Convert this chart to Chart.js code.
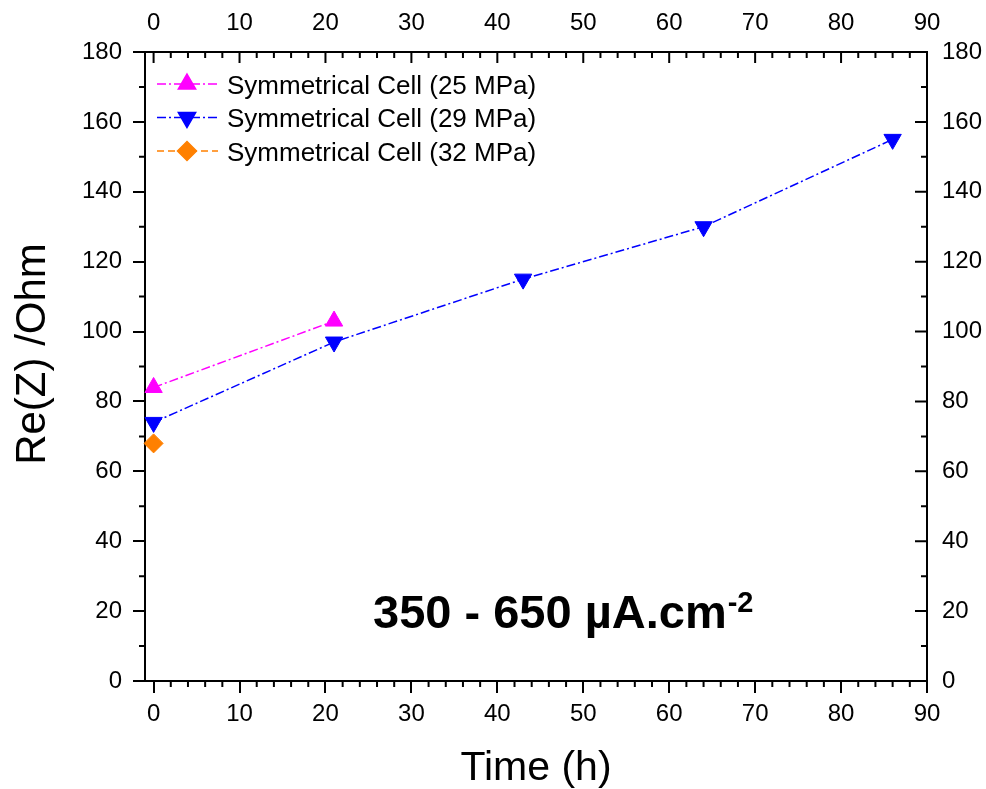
<!DOCTYPE html>
<html>
<head>
<meta charset="utf-8">
<script src="https://cdn.jsdelivr.net/npm/chart.js@4/dist/chart.umd.min.js"></script>
<style>
  html, body { margin: 0; padding: 0; background: #ffffff; }
  #wrap { width: 986px; height: 789px; }
</style>
</head>
<body>
<div id="wrap"><canvas id="c" width="986" height="789"></canvas></div>
<script>
// ---- data ----
const seriesLabels = ['Symmetrical Cell (25 MPa)', 'Symmetrical Cell (29 MPa)', 'Symmetrical Cell (32 MPa)'];
const timeH25 = [0, 21];
const reZ25 = [84, 103];
const timeH29 = [0, 21, 43, 64, 86];
const reZ29 = [74, 97, 115, 130, 155];
const timeH32 = [0];
const reZ32 = [68];
const xTickValues = [0, 10, 20, 30, 40, 50, 60, 70, 80, 90];
const yTickValues = [0, 20, 40, 60, 80, 100, 120, 140, 160, 180];
const xTitle = 'Time (h)';
const yTitle = 'Re(Z) /Ohm';
const noteMain = '350 - 650 µA.cm';
const noteSup = '-2';

const FONT = '"Liberation Sans", Arial, Helvetica, sans-serif';

function pts(xs, ys) { return xs.map((x, i) => ({ x: x, y: ys[i] })); }

const setTicks = (vals) => (scale) => { scale.ticks = vals.map(v => ({ value: v })); };

const tickFont = { family: FONT, size: 24 };

const decorPlugin = {
  id: 'decor',
  afterDraw(chart) {
    const ctx = chart.ctx;
    const a = chart.chartArea;
    const xs = chart.scales.x, ys = chart.scales.y;
    ctx.save();
    ctx.strokeStyle = '#000';
    ctx.lineWidth = 2;
    // minor ticks + inward major ticks (top / right)
    ctx.beginPath();
    for (let v = 0; v <= 90; v += 2) {
      const px = xs.getPixelForValue(v);
      const major = v % 10 === 0;
      if (!major) { ctx.moveTo(px, a.bottom); ctx.lineTo(px, a.bottom + 6); }
      ctx.moveTo(px, a.top); ctx.lineTo(px, a.top + (major ? 11 : 6));
    }
    for (let v = 0; v <= 180; v += 10) {
      const py = ys.getPixelForValue(v);
      const major = v % 20 === 0;
      if (!major) { ctx.moveTo(a.left, py); ctx.lineTo(a.left - 6, py); }
      ctx.moveTo(a.right, py); ctx.lineTo(a.right - (major ? 12 : 6), py);
    }
    ctx.stroke();

    // axis titles
    ctx.fillStyle = '#000';
    ctx.font = '41px ' + FONT;
    ctx.textAlign = 'center';
    ctx.textBaseline = 'alphabetic';
    ctx.fillText(xTitle, 536, 780);
    ctx.save();
    ctx.translate(45, 354);
    ctx.rotate(-Math.PI / 2);
    ctx.font = '42px ' + FONT;
    ctx.fillText(yTitle, 0, 0);
    ctx.restore();

    // annotation
    ctx.textAlign = 'left';
    ctx.font = 'bold 47px ' + FONT;
    const x0 = 373;
    ctx.fillText(noteMain, x0, 628);
    const w = ctx.measureText(noteMain).width;
    ctx.font = 'bold 29px ' + FONT;
    ctx.fillText(noteSup, x0 + w + 1, 612);

    // legend
    const rows = [84, 117.5, 151];
    chart.data.datasets.forEach((ds, i) => {
      const y = rows[i];
      ctx.save();
      ctx.strokeStyle = ds.borderColor;
      ctx.lineWidth = 1.5;
      ctx.setLineDash(ds.borderDash || []);
      ctx.beginPath();
      ctx.moveTo(157, y); ctx.lineTo(218, y);
      ctx.stroke();
      ctx.setLineDash([]);
      ctx.fillStyle = ds.pointBackgroundColor;
      ctx.strokeStyle = ds.pointBorderColor;
      Chart.helpers.drawPoint(ctx, {
        pointStyle: ds.pointStyle, rotation: ds.pointRotation || 0,
        radius: ds.pointRadius, borderWidth: 1
      }, 187, y);
      ctx.restore();
      ctx.fillStyle = '#000';
      ctx.font = '26px ' + FONT;
      ctx.textAlign = 'left';
      ctx.textBaseline = 'alphabetic';
      ctx.fillText(ds.label, 227, y + 9.5);
    });
    ctx.restore();
  }
};

const mkDs = (label, data, color, style, rot, dash, r) => ({
  label: label, data: data,
  borderColor: color, backgroundColor: color,
  pointBackgroundColor: color, pointBorderColor: color,
  pointStyle: style, pointRotation: rot, pointRadius: r, pointHoverRadius: r,
  pointBorderWidth: 1,
  borderWidth: 1.5, borderDash: dash,
  showLine: true, tension: 0, clip: false, xAxisID: 'x', yAxisID: 'y'
});

new Chart(document.getElementById('c'), {
  type: 'scatter',
  data: {
    datasets: [
      mkDs(seriesLabels[0], pts(timeH25, reZ25), '#FF00FF', 'triangle', 0, [9, 3, 2, 3], 10),
      mkDs(seriesLabels[1], pts(timeH29, reZ29), '#0000FF', 'triangle', 180, [9, 3, 2, 3], 10),
      mkDs(seriesLabels[2], pts(timeH32, reZ32), '#FF8000', 'rectRot', 0, [7, 4], 9.5)
    ]
  },
  options: {
    responsive: false,
    animation: false,
    devicePixelRatio: 1,
    layout: { padding: 0 },
    plugins: { legend: { display: false }, tooltip: { enabled: false } },
    scales: {
      x: {
        type: 'linear', position: 'bottom', min: -1, max: 90,
        afterBuildTicks: setTicks(xTickValues),
        afterFit: (s) => { s.height = 108; },
        ticks: { font: tickFont, color: '#000', padding: 7, maxRotation: 0 },
        grid: { display: true, drawOnChartArea: false, drawTicks: true, tickLength: 12, lineWidth: 2, color: '#000' },
        border: { display: true, width: 2, color: '#000' }
      },
      x2: {
        type: 'linear', position: 'top', min: -1, max: 90, axis: 'x',
        afterBuildTicks: setTicks(xTickValues),
        afterFit: (s) => { s.height = 52; },
        ticks: { font: tickFont, color: '#000', padding: 14, maxRotation: 0 },
        grid: { display: false, drawTicks: false },
        border: { display: true, width: 2, color: '#000' }
      },
      y: {
        type: 'linear', position: 'left', min: 0, max: 180,
        afterBuildTicks: setTicks(yTickValues),
        afterFit: (s) => { s.width = 145; },
        ticks: { font: tickFont, color: '#000', padding: 11 },
        grid: { display: true, drawOnChartArea: false, drawTicks: true, tickLength: 12, lineWidth: 2, color: '#000' },
        border: { display: true, width: 2, color: '#000' }
      },
      y2: {
        type: 'linear', position: 'right', min: 0, max: 180, axis: 'y',
        afterBuildTicks: setTicks(yTickValues),
        afterFit: (s) => { s.width = 59; },
        ticks: { font: tickFont, color: '#000', padding: 15 },
        grid: { display: false, drawTicks: false },
        border: { display: true, width: 2, color: '#000' }
      }
    }
  },
  plugins: [decorPlugin]
});
</script>
</body>
</html>
